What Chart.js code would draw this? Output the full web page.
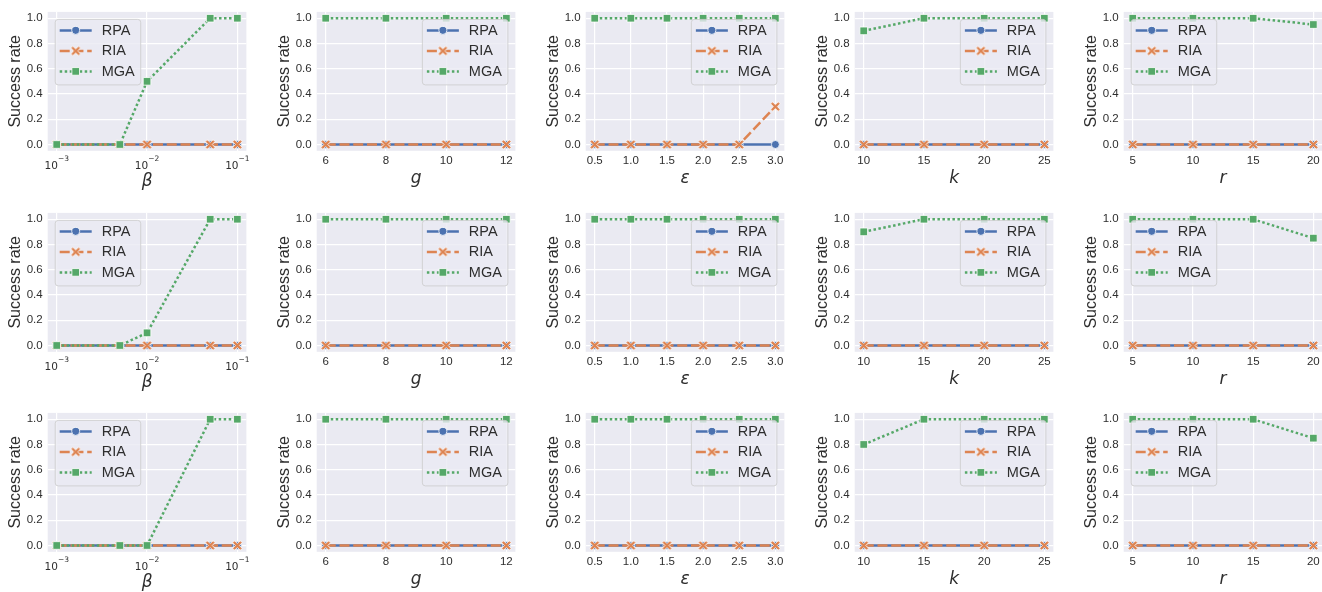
<!DOCTYPE html>
<html>
<head>
<meta charset="utf-8">
<script src="https://cdn.jsdelivr.net/npm/chart.js@4.4.1/dist/chart.umd.min.js"></script>
<style>
  body { margin: 0; background: #fff; width: 1322px; height: 592px; overflow: hidden; position: relative; }
  .panel { position: absolute; width: 269px; height: 200px; }
</style>
</head>
<body>
<div id="grid"></div>
<script>
// x values of each parameter sweep
const betaValues = [0.001, 0.005, 0.01, 0.05, 0.1];
const gValues = [6, 8, 10, 12];
const epsValues = [0.5, 1.0, 1.5, 2.0, 2.5, 3.0];
const kValues = [10, 15, 20, 25];
const rValues = [5, 10, 15, 20];

const methodNames = ['RPA', 'RIA', 'MGA'];

// success rates, one inner array per row of the figure (top to bottom)
const rpaBeta = [[0, 0, 0, 0, 0], [0, 0, 0, 0, 0], [0, 0, 0, 0, 0]];
const riaBeta = [[0, 0, 0, 0, 0], [0, 0, 0, 0, 0], [0, 0, 0, 0, 0]];
const mgaBeta = [[0, 0, 0.5, 1, 1], [0, 0, 0.1, 1, 1], [0, 0, 0, 1, 1]];

const rpaG = [[0, 0, 0, 0], [0, 0, 0, 0], [0, 0, 0, 0]];
const riaG = [[0, 0, 0, 0], [0, 0, 0, 0], [0, 0, 0, 0]];
const mgaG = [[1, 1, 1, 1], [1, 1, 1, 1], [1, 1, 1, 1]];

const rpaEps = [[0, 0, 0, 0, 0, 0], [0, 0, 0, 0, 0, 0], [0, 0, 0, 0, 0, 0]];
const riaEps = [[0, 0, 0, 0, 0, 0.3], [0, 0, 0, 0, 0, 0], [0, 0, 0, 0, 0, 0]];
const mgaEps = [[1, 1, 1, 1, 1, 1], [1, 1, 1, 1, 1, 1], [1, 1, 1, 1, 1, 1]];

const rpaK = [[0, 0, 0, 0], [0, 0, 0, 0], [0, 0, 0, 0]];
const riaK = [[0, 0, 0, 0], [0, 0, 0, 0], [0, 0, 0, 0]];
const mgaK = [[0.9, 1, 1, 1], [0.9, 1, 1, 1], [0.8, 1, 1, 1]];

const rpaR = [[0, 0, 0, 0], [0, 0, 0, 0], [0, 0, 0, 0]];
const riaR = [[0, 0, 0, 0], [0, 0, 0, 0], [0, 0, 0, 0]];
const mgaR = [[1, 1, 1, 0.95], [1, 1, 1, 0.85], [1, 1, 1, 0.85]];

const yTicks = [0, 0.2, 0.4, 0.6, 0.8, 1.0];
const betaTicks = [0.001, 0.01, 0.1];
const betaTickBase = '10';
const betaTickExp = ['\u22123', '\u22122', '\u22121'];

const columns = [
  { title: 'β', xs: betaValues, ticks: betaTicks, log: true, legend: 'left', series: [rpaBeta, riaBeta, mgaBeta] },
  { title: 'g', xs: gValues, ticks: gValues, digits: 0, legend: 'right', series: [rpaG, riaG, mgaG] },
  { title: 'ε', xs: epsValues, ticks: epsValues, digits: 1, legend: 'right', series: [rpaEps, riaEps, mgaEps] },
  { title: 'k', xs: kValues, ticks: kValues, digits: 0, legend: 'right', series: [rpaK, riaK, mgaK] },
  { title: 'r', xs: rValues, ticks: rValues, digits: 0, legend: 'left', series: [rpaR, riaR, mgaR] }
];

const BLUE = '#4C72B0', ORANGE = '#DD8452', GREEN = '#55A868';
const TEXT = '#2e2e2e';
const SANS = '"Liberation Sans", Arial, sans-serif';
const MATH = '"DejaVu Sans", sans-serif';

// filled "X" marker like matplotlib's, with a thin white edge
function makeXMarker(color) {
  const c = document.createElement('canvas');
  c.width = 13; c.height = 13;
  const g = c.getContext('2d');
  const L = 5.4, w = 1.45;
  const pts = [[w, L], [w, w], [L, w], [L, -w], [w, -w], [w, -L], [-w, -L], [-w, -w], [-L, -w], [-L, w], [-w, w], [-w, L]];
  g.translate(6.5, 6.5);
  g.rotate(Math.PI / 4);
  g.beginPath();
  pts.forEach(([px, py], i) => i ? g.lineTo(px, py) : g.moveTo(px, py));
  g.closePath();
  g.fillStyle = color;
  g.fill();
  g.strokeStyle = '#fff';
  g.lineWidth = 0.8;
  g.stroke();
  return c;
}
const xMarker = makeXMarker(ORANGE);

const styles = [
  { color: BLUE, dash: [], pointStyle: 'circle', radius: 4 },
  { color: ORANGE, dash: [10, 3.75], pointStyle: xMarker, radius: 4 },
  { color: GREEN, dash: [2.5, 2.5], pointStyle: 'rect', radius: 5.4 }
];

const plotBackground = {
  id: 'plotBackground',
  beforeDraw(chart) {
    const { ctx, chartArea: a } = chart;
    ctx.save();
    ctx.fillStyle = '#EAEAF2';
    ctx.fillRect(a.left, a.top, a.right - a.left, a.bottom - a.top);
    ctx.restore();
  }
};

// 10^n labels for the log axis, drawn with a raised exponent
const logTickLabels = {
  id: 'logTickLabels',
  afterDraw(chart, args, opts) {
    if (!opts.exps) return;
    const { ctx, chartArea: a, scales } = chart;
    ctx.save();
    ctx.fillStyle = TEXT;
    ctx.textBaseline = 'alphabetic';
    ctx.textAlign = 'left';
    opts.ticks.forEach((v, i) => {
      ctx.font = '10.5px ' + MATH;
      const wb = ctx.measureText(betaTickBase).width;
      ctx.font = '7.5px ' + MATH;
      const we = ctx.measureText(opts.exps[i]).width;
      const px = scales.x.getPixelForValue(v) - (wb + we) / 2;
      ctx.font = '10.5px ' + MATH;
      ctx.fillText(betaTickBase, px, a.bottom + 18.3);
      ctx.font = '7.5px ' + MATH;
      ctx.fillText(opts.exps[i], px + wb, a.bottom + 10);
    });
    ctx.restore();
  }
};

// legend drawn inside the plot area, the way matplotlib does it
const insideLegend = {
  id: 'insideLegend',
  afterDraw(chart, args, opts) {
    const { ctx, chartArea: a } = chart;
    const sets = chart.data.datasets;
    ctx.save();
    ctx.font = '14.5px ' + SANS;
    const textW = Math.max(...sets.map(d => ctx.measureText(d.label).width));
    const w = 46.5 + textW + 6, h = 65.5;
    const x = opts.side === 'left' ? a.left + 7.5 : a.right - 7.5 - w;
    const y = a.top + 7.5;
    ctx.beginPath();
    ctx.roundRect(x, y, w, h, 3);
    ctx.fillStyle = 'rgba(234,234,242,0.8)';
    ctx.fill();
    ctx.strokeStyle = 'rgba(204,204,204,0.8)';
    ctx.lineWidth = 1;
    ctx.stroke();
    sets.forEach((d, i) => {
      const cy = y + 11 + i * 20.5;
      ctx.setLineDash(d.borderDash);
      ctx.strokeStyle = d.borderColor;
      ctx.lineWidth = d.borderWidth;
      ctx.beginPath();
      ctx.moveTo(x + 4.5, cy);
      ctx.lineTo(x + 36.5, cy);
      ctx.stroke();
      ctx.setLineDash([]);
      ctx.fillStyle = d.pointBackgroundColor;
      ctx.strokeStyle = '#fff';
      ctx.lineWidth = d.pointBorderWidth;
      Chart.helpers.drawPoint(ctx, { pointStyle: d.pointStyle, radius: d.pointRadius, borderWidth: d.pointBorderWidth, rotation: 0 }, x + 20.5, cy);
      ctx.fillStyle = TEXT;
      ctx.textBaseline = 'middle';
      ctx.textAlign = 'left';
      ctx.fillText(d.label, x + 46.5, cy + 0.5);
    });
    ctx.restore();
  }
};

const grid = document.getElementById('grid');

for (let row = 0; row < 3; row++) {
  columns.forEach((col, ci) => {
    const div = document.createElement('div');
    div.className = 'panel';
    div.style.left = (269 * ci) + 'px';
    div.style.top = (200.5 * row) + 'px';
    const canvas = document.createElement('canvas');
    div.appendChild(canvas);
    grid.appendChild(div);

    const first = col.xs[0], last = col.xs[col.xs.length - 1];
    let xMin, xMax;
    if (col.log) {
      const lo = Math.log10(first), hi = Math.log10(last), pad = 0.05 * (hi - lo);
      xMin = Math.pow(10, lo - pad);
      xMax = Math.pow(10, hi + pad);
    } else {
      const pad = 0.05 * (last - first);
      xMin = first - pad;
      xMax = last + pad;
    }

    const datasets = methodNames.map((name, mi) => ({
      label: name,
      data: col.xs.map((x, i) => ({ x: x, y: col.series[mi][row][i] })),
      borderColor: styles[mi].color,
      backgroundColor: styles[mi].color,
      borderWidth: 2.5,
      borderDash: styles[mi].dash,
      borderCapStyle: 'butt',
      pointStyle: styles[mi].pointStyle,
      pointRadius: styles[mi].radius,
      pointBackgroundColor: styles[mi].color,
      pointBorderColor: '#fff',
      pointBorderWidth: 0.8,
      order: 3 - mi
    }));

    new Chart(canvas, {
      type: 'line',
      data: { datasets: datasets },
      plugins: [plotBackground, logTickLabels, insideLegend],
      options: {
        responsive: true,
        maintainAspectRatio: false,
        animation: false,
        events: [],
        layout: { padding: { top: 9.3, right: 22.6, left: 0, bottom: 0 } },
        plugins: {
          legend: { display: false },
          tooltip: { enabled: false },
          insideLegend: { side: col.legend },
          logTickLabels: col.log ? { ticks: col.ticks, exps: betaTickExp } : {}
        },
        scales: {
          x: {
            type: col.log ? 'logarithmic' : 'linear',
            min: xMin,
            max: xMax,
            bounds: 'data',
            afterBuildTicks: s => { s.ticks = col.ticks.map(v => ({ value: v })); },
            afterFit: s => { s.height = 49.2; },
            grid: { color: '#fff', lineWidth: 1.2, drawTicks: false },
            border: { display: false },
            ticks: {
              padding: 3,
              color: TEXT,
              maxRotation: 0,
              autoSkip: false,
              font: { family: SANS, size: 11.5 },
              callback: function (v) {
                return col.log ? '' : Number(v).toFixed(col.digits);
              }
            },
            title: {
              display: true,
              text: col.title,
              color: TEXT,
              padding: { top: 0, bottom: col.log ? 8 : 11 },
              font: { family: MATH, style: 'italic', size: 17 }
            }
          },
          y: {
            min: -0.05,
            max: 1.05,
            bounds: 'data',
            afterBuildTicks: s => { s.ticks = yTicks.map(v => ({ value: v })); },
            afterFit: s => { s.width = 47.7; },
            grid: { color: '#fff', lineWidth: 1.2, drawTicks: false },
            border: { display: false },
            ticks: {
              padding: 5,
              color: TEXT,
              font: { family: SANS, size: 11.5 },
              callback: v => Number(v).toFixed(1)
            },
            title: {
              display: true,
              text: 'Success rate',
              color: TEXT,
              padding: { top: 6, bottom: 0 },
              font: { family: SANS, size: 16 }
            }
          }
        }
      }
    });
  });
}
</script>
</body>
</html>
